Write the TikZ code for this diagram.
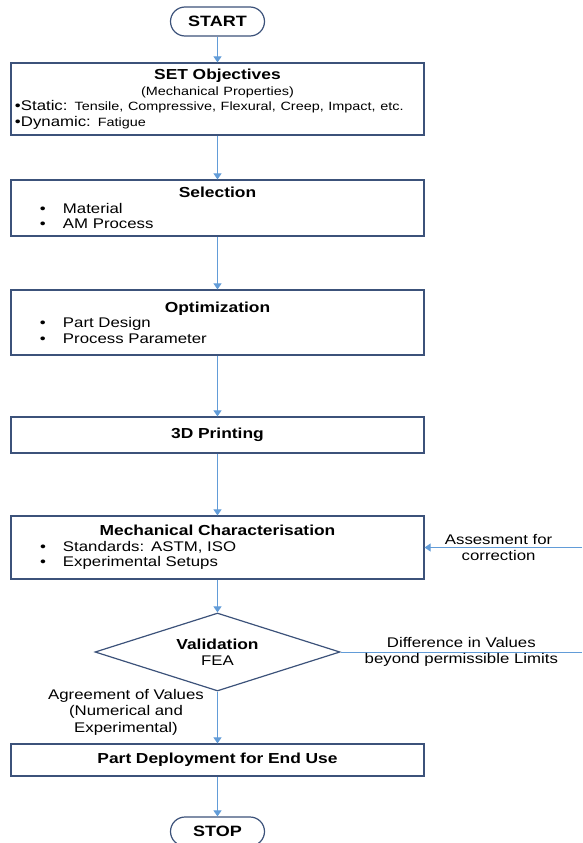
\documentclass[tikz,border=0pt]{standalone}
\usepackage{fontspec}
\setmainfont{Liberation Sans}[FakeStretch=1.2]
\usetikzlibrary{shapes.geometric,arrows.meta}
\definecolor{boxline}{RGB}{60,82,122}
\definecolor{flowline}{RGB}{98,156,216}
\newcommand{\ttl}[1]{{\fontsize{14.5}{15.5}\selectfont\bfseries #1}}
\newcommand{\sml}{\fontsize{12}{15.5}\selectfont}
\newcommand{\lft}[1]{\makebox[405pt][l]{#1}}
\newcommand{\itm}[1]{\lft{\hspace*{25pt}\makebox[23pt][l]{\textbullet}#1}}
\begin{document}
\begin{tikzpicture}[x=1pt,y=-1pt,font=\fontsize{14}{15.5}\selectfont,
	procbox/.style={rectangle, draw=boxline, line width=1.2pt, text width=405pt, inner xsep=4pt, inner ysep=0pt, align=center},
	termbox/.style={rectangle, draw=boxline, line width=1.2pt, rounded corners=14.5pt, minimum width=94pt, minimum height=29pt, font=\fontsize{15}{16}\selectfont\bfseries},
	decbox/.style={diamond, draw=boxline, line width=1.2pt, aspect=3.14, inner sep=0pt, minimum width=245pt, minimum height=78pt, align=center},
	flow/.style={draw=flowline, line width=0.9pt, -{Triangle[width=8pt,length=6pt]}},
	lbl/.style={align=center, font=\fontsize{14}{16.5}\selectfont}]
	\useasboundingbox (0,0) rectangle (582,843);
	\node (S) at (217.5, 21.5)	[termbox]	{START};
	\node (OBJ) at (217.5, 99)	[procbox, minimum height=72pt]	{\ttl{SET Objectives}\\ {\sml (Mechanical Properties)}\\ \lft{\textbullet Static: {\sml Tensile, Compressive, Flexural, Creep, Impact, etc.}}\\ \lft{\textbullet Dynamic: {\sml Fatigue}}};
	\node (SEL) at (217.5, 208)	[procbox, minimum height=56pt]	{\ttl{Selection}\\ \itm{Material}\\ \itm{AM Process}};
	\node (OPT) at (217.5, 322.5)	[procbox, minimum height=65pt]	{\ttl{Optimization}\\ \itm{Part Design}\\ \itm{Process Parameter}};
	\node (PRN) at (217.5, 435)	[procbox, minimum height=36pt]	{\ttl{3D Printing}};
	\node (MCH) at (217.5, 547.5)	[procbox, minimum height=63pt]	{\ttl{Mechanical Characterisation}\\ \itm{Standards: ASTM, ISO}\\ \itm{Experimental Setups}};
	\node (VAL) at (217.5, 652)	[decbox]	{\ttl{Validation}\\ FEA};
	\node (DEP) at (217.5, 760)	[procbox, minimum height=32pt]	{\ttl{Part Deployment for End Use}};
	\node (E) at (217.5, 831.5)	[termbox]	{STOP};
	\node (AGR) at (126, 712)	[lbl]	{Agreement of Values\\ (Numerical and\\ Experimental)};
	\coordinate (R1) at (582, 652);
	\coordinate (R2) at (582, 547.5);
	\draw [flow] (S) -- (OBJ);
	\draw [flow] (OBJ) -- (SEL);
	\draw [flow] (SEL) -- (OPT);
	\draw [flow] (OPT) -- (PRN);
	\draw [flow] (PRN) -- (MCH);
	\draw [flow] (MCH) -- (VAL);
	\draw [flow] (VAL) -- (DEP);
	\draw [flow] (DEP) -- (E);
	\draw [draw=flowline, line width=0.9pt] (VAL) -- (R1) node [midway, lbl] {Difference in Values\\ beyond permissible Limits};
	\draw [flow] (R2) -- (MCH) node [pos=0.53, lbl] {Assesment for\\ correction};
\end{tikzpicture}
\end{document}
